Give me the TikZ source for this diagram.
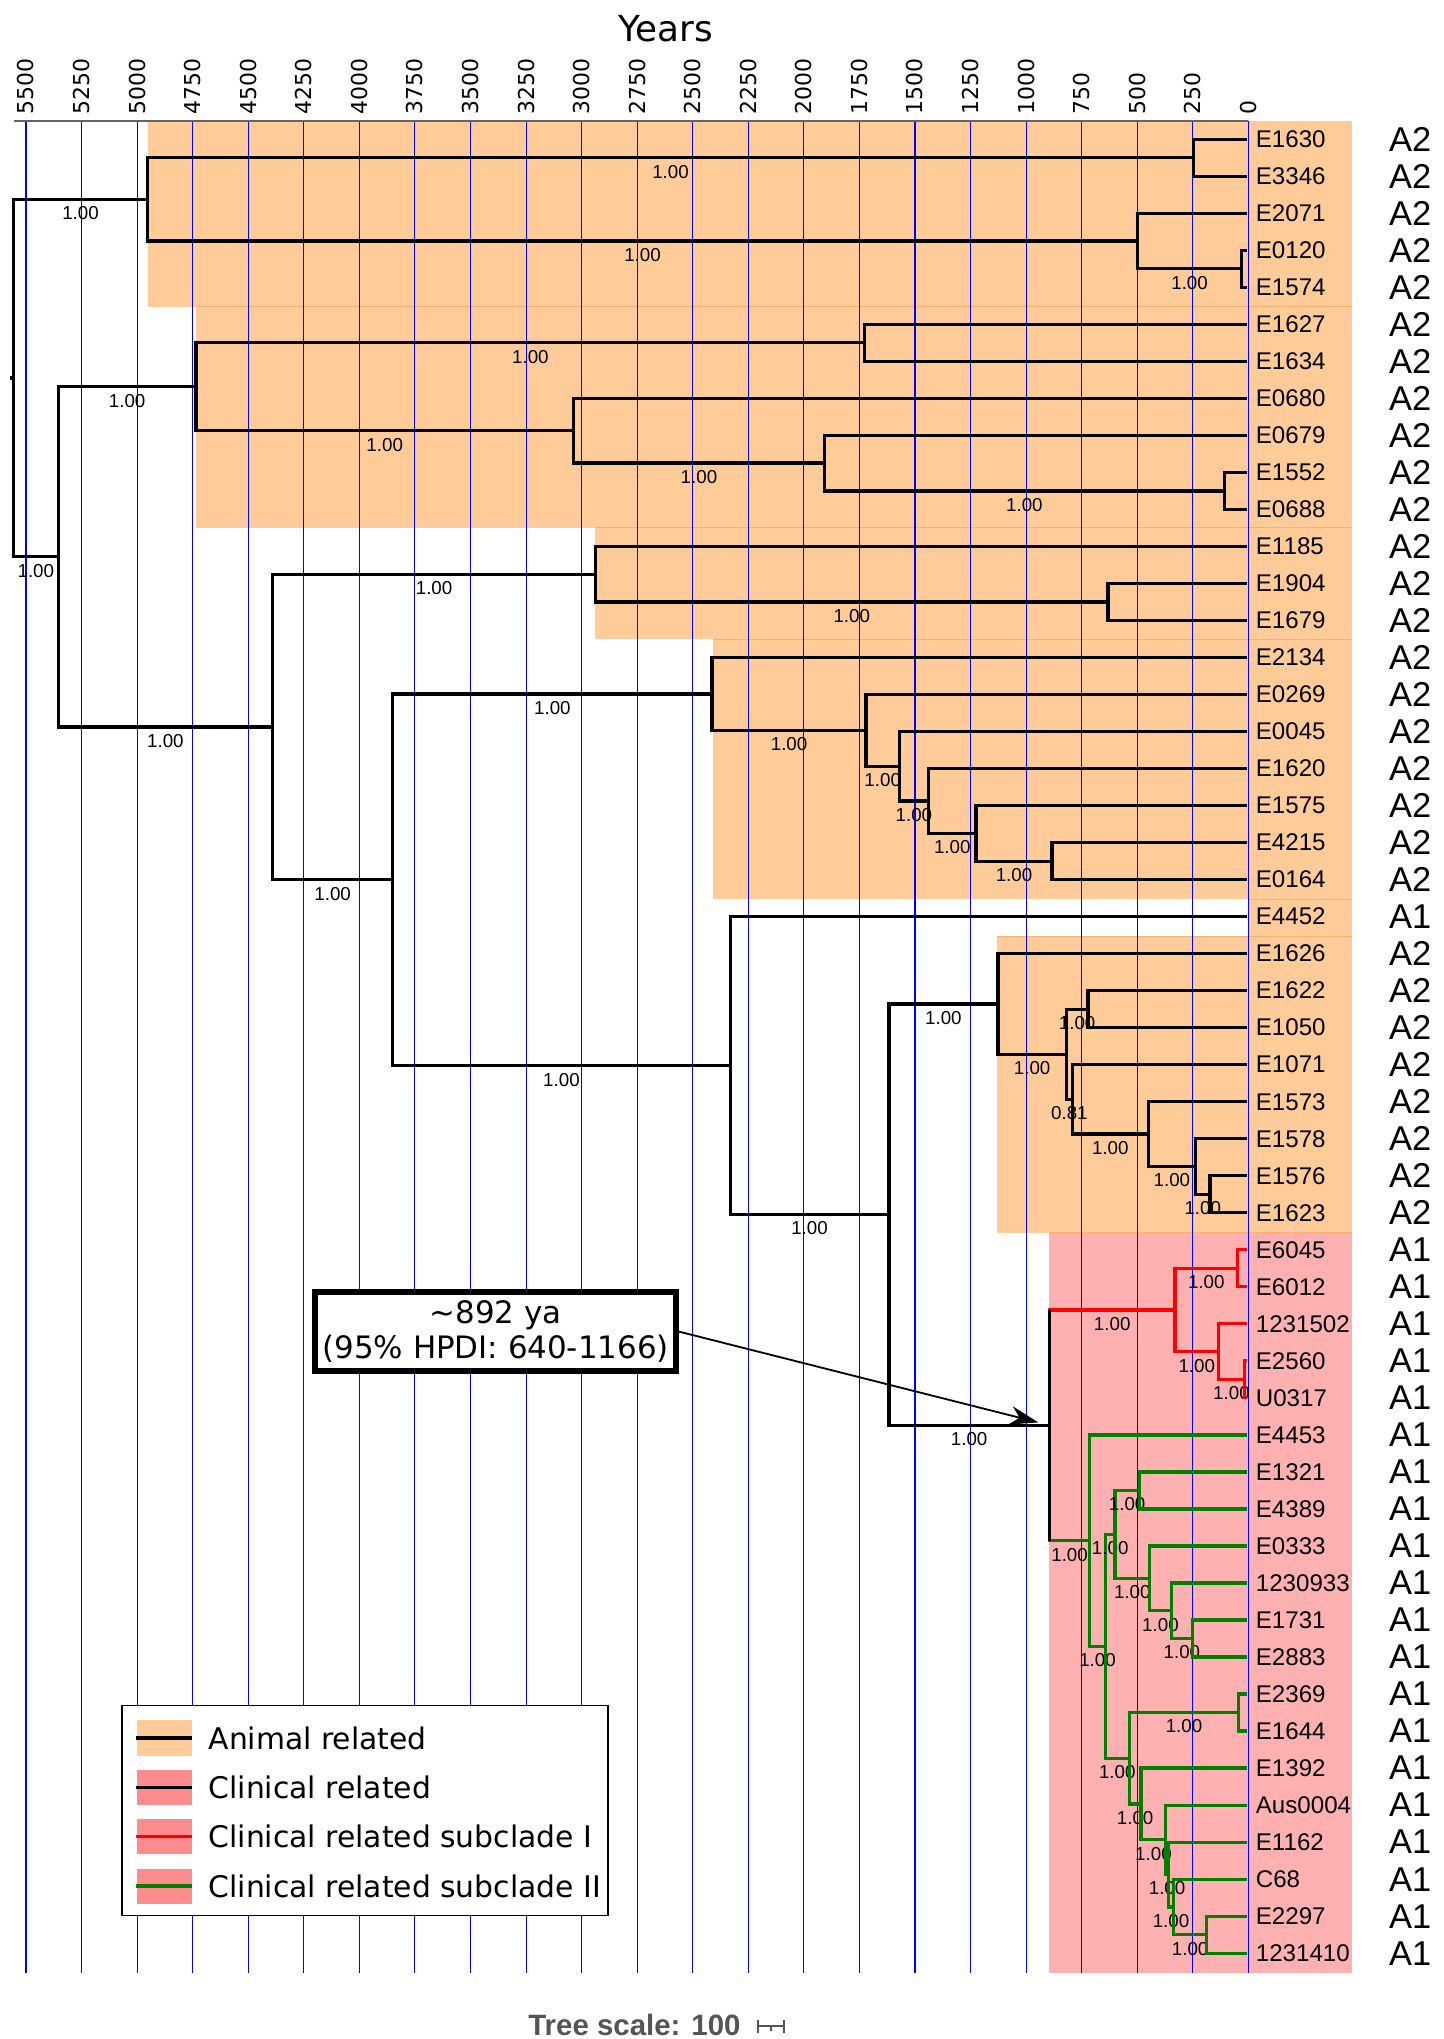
\documentclass[tikz,border=0pt]{standalone}
\usepackage{fontspec}
\setmainfont{Liberation Sans}
\newfontfamily\vera{DejaVu Sans}
\usetikzlibrary{positioning,arrows.meta}

\definecolor{animal}{RGB}{255,204,153}
\definecolor{clinical}{RGB}{255,176,176}
\definecolor{clinkey}{RGB}{255,140,140}
\definecolor{edgeorange}{RGB}{250,175,110}
\definecolor{subI}{RGB}{255,0,0}
\definecolor{subII}{RGB}{0,128,0}
\definecolor{gridblue}{RGB}{0,0,255}
\definecolor{axisgray}{RGB}{100,100,100}
\definecolor{scalegray}{RGB}{85,85,85}

\begin{document}
\begin{tikzpicture}[x=0.25mm, y=-0.25mm,
    br/.style={line width=0.62mm},
    sup/.style={pos=0.75, anchor=north, yshift=-1.1mm, inner sep=0pt, font=\fontsize{10.25}{12}\selectfont},
    tip/.style={anchor=west, inner sep=0pt, font=\fontsize{13.2}{15}\selectfont},
    grp/.style={anchor=west, inner sep=0pt, font=\fontsize{18.85}{22}\selectfont},
    yearlabel/.style={rotate=90, anchor=west, inner sep=0pt, font=\vera\fontsize{12}{14}\selectfont},
    swatch/.style={minimum width=10.6mm, minimum height=6.75mm, inner sep=0pt},
    keytext/.style={inner sep=0pt, font=\vera\fontsize{16.3}{19}\selectfont},
    hpdi/.style={draw, fill=white, line width=1.15mm, minimum width=69.3mm, minimum height=15.1mm,
        inner sep=0pt, align=center, font=\vera\fontsize{16.9}{19.4}\selectfont}
]
\useasboundingbox (0,0) rectangle (1110,1568);

% clade backgrounds
\fill[animal] (113.6,93) rectangle (1040,236);
\fill[animal] (150.7,236) rectangle (1040,406);
\fill[animal] (457.5,406) rectangle (1040,491.5);
\fill[animal] (548,491.5) rectangle (1040,691.5);
\fill[animal] (960,691.5) rectangle (1040,720);
\fill[animal] (767,720) rectangle (1040,948);
\fill[clinical] (807,948) rectangle (1040,1517);
\draw[edgeorange, line width=0.2mm] (150.7,236) -- (1040,236) (457.5,406) -- (1040,406)
    (548,491.5) -- (1040,491.5) (960,691.5) -- (1040,691.5) (767,720) -- (1040,720) (807,948) -- (1040,948);

% time axis
\node[font=\vera\fontsize{19.6}{23}\selectfont] (title) at (512,22) {Years};
\foreach \yr [count=\k from 0] in {0,250,...,5500} {
    \draw[gridblue, line width=0.2mm] ({960-\k*42.7273},93) -- ({960-\k*42.7273},1517);
    \node[yearlabel] (yr\k) at ({960-\k*42.7273},88.5) {\yr};
}
\draw[axisgray, line width=0.3mm] (11,93) -- (960,93);

% tips
\foreach \sample/\group [count=\i] in {E1630/A2, E3346/A2, E2071/A2, E0120/A2, E1574/A2, E1627/A2,
    E1634/A2, E0680/A2, E0679/A2, E1552/A2, E0688/A2, E1185/A2, E1904/A2, E1679/A2, E2134/A2,
    E0269/A2, E0045/A2, E1620/A2, E1575/A2, E4215/A2, E0164/A2, E4452/A1, E1626/A2, E1622/A2,
    E1050/A2, E1071/A2, E1573/A2, E1578/A2, E1576/A2, E1623/A2, E6045/A1, E6012/A1, 1231502/A1,
    E2560/A1, U0317/A1, E4453/A1, E1321/A1, E4389/A1, E0333/A1, 1230933/A1, E1731/A1, E2883/A1,
    E2369/A1, E1644/A1, E1392/A1, Aus0004/A1, E1162/A1, C68/A1, E2297/A1, 1231410/A1} {
    \coordinate (t\i) at (959,{107+(\i-1)*28.4694});
    \node[tip] (n\i) at (965.5,{107+(\i-1)*28.4694}) {\sample};
    \node[grp] (g\i) at (1068,{107+(\i-1)*28.4694}) {\group};
}

% internal nodes
\coordinate (root) at (10.3,290.7);
\coordinate (A) at (113.6,153.3);   \coordinate (A1) at (917.7,121.2);
\coordinate (A2) at (874.6,185.3);  \coordinate (A3) at (955,206.6);
\coordinate (B) at (44.8,428.2);    \coordinate (C) at (150.7,297.4);
\coordinate (C1) at (665,263.6);    \coordinate (C2) at (441,331.2);
\coordinate (C3) at (634,356.1);    \coordinate (C4) at (941.5,377.5);
\coordinate (D) at (209.6,559.0);   \coordinate (E) at (458,441.5);
\coordinate (E1) at (852,462.9);    \coordinate (F) at (302,676.5);
\coordinate (G) at (547.6,533.6);   \coordinate (G1) at (666,561.6);
\coordinate (G2) at (691.6,589.2);  \coordinate (G3) at (714,615.9);
\coordinate (G4) at (750.6,640.8);  \coordinate (G5) at (809,662.2);
\coordinate (H) at (561.5,819.5);   \coordinate (I) at (683.6,934.0);
\coordinate (J) at (767.4,772.0);   \coordinate (J1) at (820,810.7);
\coordinate (J2) at (836.7,776.0);  \coordinate (J3) at (824.7,845.4);
\coordinate (J4) at (883,872.1);    \coordinate (J5) at (919.4,897.0);
\coordinate (J6) at (930.4,918.4);  \coordinate (K) at (807,1096.0);
\coordinate (L) at (903.6,1007.3);  \coordinate (L1) at (951.6,975.3);
\coordinate (L2) at (937,1039.4);   \coordinate (L3) at (957,1060.7);
\coordinate (M) at (838,1184.7);    \coordinate (N) at (850,1266.0);
\coordinate (O) at (857.5,1179.9);  \coordinate (O1) at (876,1146.1);
\coordinate (O2) at (884,1213.8);   \coordinate (O3) at (900.8,1238.7);
\coordinate (O4) at (917,1260.0);   \coordinate (R) at (868.4,1352.1);
\coordinate (R1) at (952.6,1316.9); \coordinate (R2) at (877.5,1387.2);
\coordinate (R3) at (896.5,1414.8); \coordinate (R4) at (898.5,1441.5);
\coordinate (R5) at (902.5,1466.4); \coordinate (R6) at (927.9,1487.8);

% branches
\foreach \p/\c/\s in {root/A/1.00, root/B/1.00, A/A1/1.00, A/A2/1.00, A2/A3/1.00, B/C/1.00, B/D/1.00,
    C/C1/1.00, C/C2/1.00, C2/C3/1.00, C3/C4/1.00, D/E/1.00, D/F/1.00, E/E1/1.00, F/G/1.00, F/H/1.00,
    G/G1/1.00, G1/G2/1.00, G2/G3/1.00, G3/G4/1.00, G4/G5/1.00, H/I/1.00, I/J/1.00, I/K/1.00,
    J/J1/1.00, J1/J2/1.00, J1/J3/0.81, J3/J4/1.00, J4/J5/1.00, J5/J6/1.00}
    \draw[br] (\p) |- (\c) node[sup] {\s};
\foreach \p/\c in {K/L, L/L1, L/L2, L2/L3}
    \draw[br, subI] (\p) |- (\c) node[sup, text=black] {1.00};
\foreach \p/\c in {K/M, M/N, N/O, N/R, O/O1, O/O2, O2/O3, O3/O4, R/R1, R/R2, R2/R3, R3/R4, R4/R5, R5/R6}
    \draw[br, subII] (\p) |- (\c) node[sup, text=black] {1.00};
\draw[br] (K |- L) -- (K |- M);
\draw[br] (root) -- ++(-2.5,0);

\foreach \p/\c in {A1/1, A1/2, A2/3, A3/4, A3/5, C1/6, C1/7, C2/8, C3/9, C4/10, C4/11, E/12, E1/13,
    E1/14, G/15, G1/16, G2/17, G3/18, G4/19, G5/20, G5/21, H/22, J/23, J2/24, J2/25, J3/26, J4/27,
    J5/28, J6/29, J6/30}
    \draw[br] (\p) |- (t\c);
\foreach \p/\c in {L1/31, L1/32, L2/33, L3/34, L3/35}
    \draw[br, subI] (\p) |- (t\c);
\foreach \p/\c in {M/36, O1/37, O1/38, O2/39, O3/40, O4/41, O4/42, R1/43, R1/44, R2/45, R3/46,
    R4/47, R5/48, R6/49, R6/50}
    \draw[br, subII] (\p) |- (t\c);

% dating note
\node[hpdi] (note) at (381.2,1024) {\textasciitilde892 ya\\(95\% HPDI: 640-1166)};
\draw[line width=0.35mm, -{Stealth[length=5.5mm, width=3.6mm]}, shorten >=2.2mm] (note.east) -- (K);

% legend
\draw[line width=0.375mm, fill=white] (93.5,1311.5) rectangle (467.6,1473);
\node[swatch, fill=animal] (key1) at (126.3,1336.5) {};
\node[swatch, fill=clinkey, below=2.6mm of key1] (key2) {};
\node[swatch, fill=clinkey, below=2.6mm of key2] (key3) {};
\node[swatch, fill=clinkey, below=2.6mm of key3] (key4) {};
\draw[line width=0.65mm] (key1.west) -- (key1.east);
\draw[line width=0.65mm] (key2.west) -- (key2.east);
\draw[line width=0.65mm, subI] (key3.west) -- (key3.east);
\draw[line width=0.65mm, subII] (key4.west) -- (key4.east);
\node[keytext, right=3.1mm of key1] (txt1) {Animal related};
\node[keytext, right=3.1mm of key2] (txt2) {Clinical related};
\node[keytext, right=3.1mm of key3] (txt3) {Clinical related subclade I};
\node[keytext, right=3.1mm of key4] (txt4) {Clinical related subclade II};

% tree scale
\node[anchor=base west, inner sep=0pt, text=scalegray, font=\bfseries\fontsize{16.1}{19}\selectfont]
    (scale) at (406,1565) {Tree scale: 100};
\draw[scalegray, line width=0.3mm] (583,1553) -- (583,1563) (583,1558) -- (603,1558)
    (603,1553) -- (603,1563) (593,1558) -- (593,1562);
\end{tikzpicture}
\end{document}
